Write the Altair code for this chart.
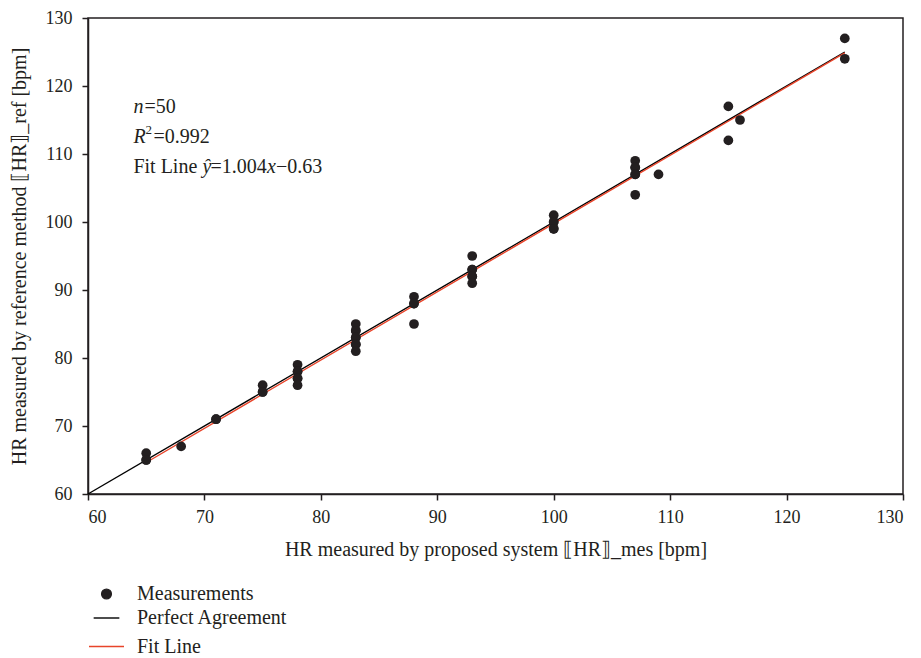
import altair as alt
import pandas as pd

# ---- data ----
mes_x = [65, 65, 65, 68, 71, 71, 75, 75, 75, 78, 78, 78, 78, 78, 78,
         83, 83, 83, 83, 83, 83, 83, 83, 88, 88, 88, 88, 93, 93, 93, 93, 93, 93,
         100, 100, 100, 100, 100, 107, 107, 107, 107, 107, 107, 109, 115, 115, 116, 125, 125]
ref_y = [66, 65, 65, 67, 71, 71, 76, 75, 75, 79, 78, 78, 77, 77, 76,
         85, 84, 84, 83, 83, 82, 82, 81, 89, 88, 88, 85, 95, 93, 93, 92, 92, 91,
         101, 100, 100, 99, 99, 109, 108, 108, 107, 107, 104, 107, 117, 112, 115, 127, 124]

series_names = ["Measurements", "Perfect Agreement", "Fit Line"]
series_colors = ["#231f20", "#000000", "#e8442a"]
series_shapes = ["circle", "stroke", "stroke"]
series_sizes = [95, 1225, 1225]

perfect_x = [60, 125]
fit_slope, fit_intercept = 1.004, -0.63
fit_x = [65, 125]

x_ticks = [60, 70, 80, 90, 100, 110, 120, 130]
y_ticks = [60, 70, 80, 90, 100, 110, 120, 130]

FONT = "Liberation Serif"

pts = pd.DataFrame({"x": mes_x, "y": ref_y, "series": ["Measurements"] * len(mes_x)})
lines = pd.DataFrame({
    "x": perfect_x + fit_x,
    "y": perfect_x + [fit_slope * v + fit_intercept for v in fit_x],
    "series": ["Perfect Agreement"] * 2 + ["Fit Line"] * 2,
})

xs = alt.Scale(domain=[60, 130], nice=False, zero=False)
ys = alt.Scale(domain=[60, 130], nice=False, zero=False)

xaxis = alt.Axis(values=x_ticks, title="HR measured by proposed system ⟦HR⟧_mes [bpm]",
                 grid=False, titlePadding=13)
yaxis = alt.Axis(values=y_ticks, title="HR measured by reference method ⟦HR⟧_ref [bpm]",
                 grid=False, titlePadding=16)

col_scale = alt.Scale(domain=series_names, range=series_colors)
legend = alt.Legend(
    title=None, orient="none", legendX=0, legendY=566,
    symbolStrokeWidth=1.4, symbolOpacity=1,
    labelFont=FONT, labelFontSize=20, labelColor="#231f20",
    labelOffset=12, rowPadding=0, labelLimit=400,
)

line_layer = alt.Chart(lines).mark_line(strokeWidth=1.4).encode(
    x=alt.X("x:Q", scale=xs, axis=xaxis),
    y=alt.Y("y:Q", scale=ys, axis=yaxis),
    stroke=alt.Stroke("series:N", scale=col_scale, legend=legend),
)

point_layer = alt.Chart(pts).mark_point(filled=True, opacity=1, strokeWidth=0).encode(
    x=alt.X("x:Q", scale=xs),
    y=alt.Y("y:Q", scale=ys),
    fill=alt.Fill("series:N", scale=col_scale, legend=legend),
    stroke=alt.Stroke("series:N", scale=col_scale, legend=legend),
    shape=alt.Shape("series:N", scale=alt.Scale(domain=series_names, range=series_shapes), legend=legend),
    size=alt.Size("series:N", scale=alt.Scale(domain=series_names, range=series_sizes), legend=legend),
)

# annotation text pieces
ann_x = 63.9
ann_rows = [116.9, 112.5, 108.1]


def txt(text, row, dx=0, italic=False, size=20, dy=0):
    df = pd.DataFrame({"x": [ann_x], "y": [ann_rows[row]], "t": [text]})
    return alt.Chart(df).mark_text(
        align="left", baseline="middle", font=FONT, fontSize=size,
        fontStyle="italic" if italic else "normal", color="#231f20", dx=dx, dy=dy,
    ).encode(x=alt.X("x:Q", scale=xs), y=alt.Y("y:Q", scale=ys), text="t:N")


texts = [
    txt("n", 0, italic=True),
    txt("=50", 0, dx=11),
    txt("R", 1, italic=True),
    txt("2", 1, dx=12, size=13, dy=-7),
    txt("=0.992", 1, dx=20),
    txt("Fit Line", 2),
    txt("ŷ", 2, dx=69, italic=True),
    txt("=1.004", 2, dx=77),
    txt("x", 2, dx=133.5, italic=True),
    txt("−0.63", 2, dx=142.5),
]

chart = alt.layer(line_layer, point_layer, *texts).properties(
    width=815, height=476,
    autosize=alt.AutoSizeParams(type="none"),
    padding={"left": 80, "top": 10, "right": 10, "bottom": 162},
).configure_view(stroke="#231f20", strokeWidth=1.5).configure_axis(
    domainColor="#231f20", domainWidth=1.5, tickColor="#231f20", tickWidth=1.5,
    tickSize=6, labelFont=FONT, labelFontSize=18, labelColor="#231f20",
    titleFont=FONT, titleFontSize=20, titleColor="#231f20", titleFontWeight="normal",
    labelPadding=10,
).configure_axisX(labelPadding=8)

chart.save("out.html", embed_options={"renderer": "svg", "actions": False})
